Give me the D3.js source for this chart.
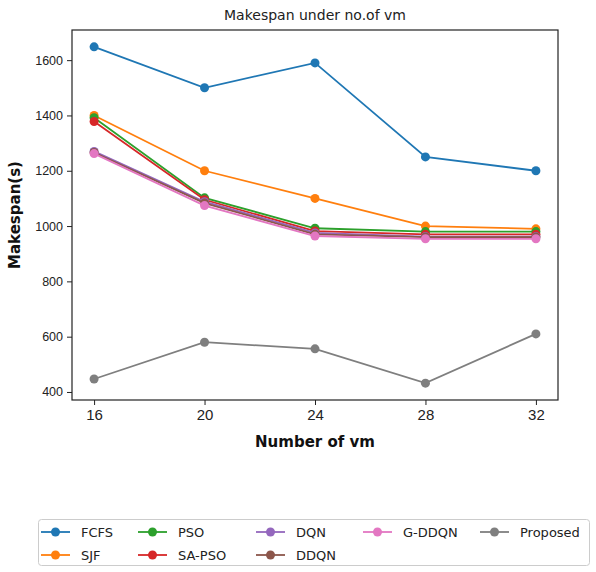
<!DOCTYPE html>
<html>
<head>
<meta charset="utf-8">
<script src="https://cdn.jsdelivr.net/npm/d3@7"></script>
<style>
  html, body { margin: 0; padding: 0; background: #fff; }
  svg { font-family: "DejaVu Sans", sans-serif; display: block; }
</style>
</head>
<body>
<div id="chart"></div>
<script>
// Data
const vmCounts = [16, 20, 24, 28, 32];
const seriesNames = ['FCFS', 'SJF', 'PSO', 'SA-PSO', 'DQN', 'DDQN', 'G-DDQN', 'Proposed'];
const fcfs     = [1648, 1500, 1590, 1250, 1200];
const sjf      = [1400, 1200, 1100, 1000, 990];
const pso      = [1392, 1102, 992, 980, 980];
const saPso    = [1378, 1095, 982, 970, 970];
const dqn      = [1270, 1088, 975, 962, 962];
const ddqn     = [1266, 1083, 970, 960, 960];
const gDdqn    = [1262, 1074, 964, 954, 954];
const proposed = [447, 580, 556, 432, 610];
const yTicks = [400, 600, 800, 1000, 1200, 1400, 1600];

const seriesValues = [fcfs, sjf, pso, saPso, dqn, ddqn, gDdqn, proposed];
const colors = ['#1f77b4', '#ff7f0e', '#2ca02c', '#d62728', '#9467bd', '#8c564b', '#e377c2', '#7f7f7f'];

const width = 596, height = 572;
const plot = { left: 72, top: 30, right: 558, bottom: 400 };

const svg = d3.select('#chart').append('svg')
  .attr('width', width)
  .attr('height', height);

// matplotlib-style 5% margins
const x = d3.scaleLinear().domain([15.2, 32.8]).range([plot.left, plot.right]);
const y = d3.scaleLinear().domain([371, 1709]).range([plot.bottom, plot.top]);

// Axes
const xAxis = d3.axisBottom(x).tickValues(vmCounts).tickSize(5).tickPadding(4);
const yAxis = d3.axisLeft(y).tickValues(yTicks).tickFormat(d3.format('d')).tickSize(5).tickPadding(4);

const gx = svg.append('g')
  .attr('transform', `translate(0,${plot.bottom})`)
  .call(xAxis);
gx.select('.domain').remove();
gx.selectAll('text').attr('font-size', 15).attr('fill', '#222');
gx.selectAll('line').attr('stroke', '#222');

const gy = svg.append('g')
  .attr('transform', `translate(${plot.left},0)`)
  .call(yAxis);
gy.select('.domain').remove();
gy.selectAll('text').attr('font-size', 12.5).attr('fill', '#222');
gy.selectAll('line').attr('stroke', '#222');

// Frame
svg.append('rect')
  .attr('x', plot.left)
  .attr('y', plot.top)
  .attr('width', plot.right - plot.left)
  .attr('height', plot.bottom - plot.top)
  .attr('fill', 'none')
  .attr('stroke', '#222')
  .attr('stroke-width', 1.2);

// Lines and markers
const line = d3.line()
  .x((d, i) => x(vmCounts[i]))
  .y(d => y(d));

seriesValues.forEach((vals, s) => {
  const g = svg.append('g').attr('class', 'series');
  g.append('path')
    .datum(vals)
    .attr('d', line)
    .attr('fill', 'none')
    .attr('stroke', colors[s])
    .attr('stroke-width', 1.8);
  g.selectAll('circle')
    .data(vals)
    .enter()
    .append('circle')
    .attr('cx', (d, i) => x(vmCounts[i]))
    .attr('cy', d => y(d))
    .attr('r', 4.5)
    .attr('fill', colors[s]);
});

// Title and axis labels
svg.append('text')
  .attr('x', (plot.left + plot.right) / 2)
  .attr('y', 20)
  .attr('text-anchor', 'middle')
  .attr('font-size', 14)
  .attr('fill', '#222')
  .text('Makespan under no.of vm');

svg.append('text')
  .attr('x', (plot.left + plot.right) / 2)
  .attr('y', 447)
  .attr('text-anchor', 'middle')
  .attr('font-size', 15)
  .attr('font-weight', 'bold')
  .attr('fill', '#111')
  .text('Number of vm');

svg.append('text')
  .attr('transform', `translate(20,${(plot.top + plot.bottom) / 2}) rotate(-90)`)
  .attr('text-anchor', 'middle')
  .attr('font-size', 15)
  .attr('font-weight', 'bold')
  .attr('fill', '#111')
  .text('Makespan(s)');

// Legend: 5 columns, 8 entries -> first three columns hold two entries, last two hold one
const legend = svg.append('g').attr('class', 'legend');
legend.append('rect')
  .attr('x', 38.5)
  .attr('y', 519.5)
  .attr('width', 551)
  .attr('height', 46)
  .attr('rx', 3)
  .attr('fill', '#fff')
  .attr('stroke', '#ccc')
  .attr('stroke-width', 1);

const colX = [41, 138, 256, 363, 480];
const rowY = [532, 555];
seriesNames.forEach((name, s) => {
  const col = s < 6 ? Math.floor(s / 2) : s - 3;
  const row = s < 6 ? s % 2 : 0;
  const lx = colX[col], ly = rowY[row];
  const item = legend.append('g');
  item.append('line')
    .attr('x1', lx).attr('x2', lx + 29)
    .attr('y1', ly).attr('y2', ly)
    .attr('stroke', colors[s])
    .attr('stroke-width', 1.8);
  item.append('circle')
    .attr('cx', lx + 14.5)
    .attr('cy', ly)
    .attr('r', 4.5)
    .attr('fill', colors[s]);
  item.append('text')
    .attr('x', lx + 40)
    .attr('y', ly)
    .attr('dy', '0.35em')
    .attr('font-size', 13)
    .attr('fill', '#222')
    .text(name);
});
</script>
</body>
</html>
